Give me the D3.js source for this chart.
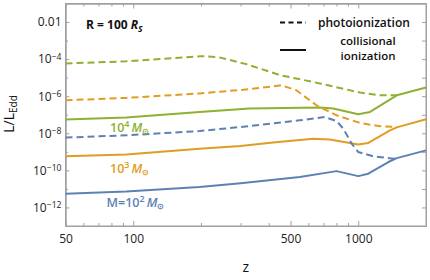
<!DOCTYPE html>
<html>
<head>
<meta charset="utf-8">
<script src="https://cdn.jsdelivr.net/npm/d3@7"></script>
<style>
  body { margin: 0; background: #fff; }
  svg { display: block; font-family: 'Open Sans', sans-serif; }
</style>
</head>
<body>
<svg id="chart" width="430" height="280"></svg>
<script>
// values: z and log10(L/LEdd)
const masses = ['1e2', '1e3', '1e4'];
const colors = ['#5E81B5', '#E19C24', '#8FB032'];

const zPhoto2 = [50, 93, 197, 300, 550, 710, 801, 858, 935, 1000, 1166, 1432, 1483];
const logPhoto2 = [-8.23, -8.11, -7.88, -7.66, -7.30, -7.12, -7.34, -7.75, -8.56, -9.01, -9.24, -9.37, -9.32];
const zColl2 = [50, 93, 197, 300, 550, 801, 1000, 1108, 1361, 1483, 2000];
const logColl2 = [-11.26, -11.14, -10.90, -10.69, -10.36, -10.04, -10.31, -10.18, -9.55, -9.34, -8.92];

const zPhoto3 = [50, 93, 197, 329, 455, 531, 652, 800, 1016, 1250, 1483];
const logPhoto3 = [-6.22, -6.09, -5.85, -5.62, -5.41, -5.68, -6.49, -7.03, -7.44, -7.62, -7.66];
const zColl3 = [50, 93, 197, 300, 418, 630, 748, 1000, 1108, 1384, 1483, 2000];
const logColl3 = [-9.24, -9.15, -8.83, -8.69, -8.50, -8.29, -8.34, -8.61, -8.52, -7.84, -7.68, -7.24];

const zPhoto4 = [50, 93, 150, 200, 240, 318, 448, 675, 1016, 1250, 1483];
const logPhoto4 = [-4.23, -4.12, -3.95, -3.84, -3.90, -4.27, -4.86, -5.31, -5.80, -5.95, -5.95];
const zColl4 = [50, 93, 197, 329, 675, 774, 1000, 1128, 1483, 2000];
const logColl4 = [-7.26, -7.15, -6.85, -6.66, -6.61, -6.66, -6.97, -6.85, -5.95, -5.53];

const xTicks = [50, 100, 500, 1000];
const xMinor = [60, 70, 80, 90, 200, 300, 400, 600, 700, 800, 900, 2000];
const yMajor = [-2, -4, -6, -8, -10, -12];   // exponents
const yMinor = [-3, -5, -7, -9, -11];

const svg = d3.select('#chart');
const margin = {left: 65.5, right: 4, top: 3.5, bottom: 54};
const w = 430, h = 280;

const x = d3.scaleLog().domain([50, 2000]).range([margin.left, w - margin.right]);
const y = d3.scaleLog().domain([1e-13, 0.1]).range([h - margin.bottom, margin.top]);

const frameCol = '#a0a0a0';

function sup(sel, base, exp) {
  sel.text(null);
  sel.append('tspan').text(base);
  sel.append('tspan').attr('dy', '-0.45em').style('font-size', '0.72em').text(exp);
}

function styleAxis(g) {
  g.select('.domain').attr('stroke', frameCol);
  g.selectAll('.tick line').attr('stroke', frameCol);
  g.selectAll('.tick text').attr('fill', '#222').style('font-size', '12px').style('font-family', "'Open Sans', sans-serif");
}

// frame
svg.append('rect')
  .attr('x', margin.left).attr('y', margin.top)
  .attr('width', w - margin.right - margin.left).attr('height', h - margin.bottom - margin.top)
  .attr('fill', 'none').attr('stroke', frameCol).attr('stroke-width', 1);

// bottom axis
svg.append('g').attr('transform', `translate(0,${h - margin.bottom})`)
  .call(d3.axisBottom(x).tickValues(xTicks).tickFormat(d3.format('d')).tickSizeInner(-5).tickSizeOuter(0).tickPadding(8))
  .call(styleAxis);
svg.append('g').attr('transform', `translate(0,${h - margin.bottom})`)
  .call(d3.axisBottom(x).tickValues(xMinor).tickFormat('').tickSizeInner(-3).tickSizeOuter(0))
  .call(styleAxis);
// top axis
svg.append('g').attr('transform', `translate(0,${margin.top})`)
  .call(d3.axisTop(x).tickValues(xTicks).tickFormat('').tickSizeInner(-5).tickSizeOuter(0))
  .call(styleAxis);
svg.append('g').attr('transform', `translate(0,${margin.top})`)
  .call(d3.axisTop(x).tickValues(xMinor).tickFormat('').tickSizeInner(-3).tickSizeOuter(0))
  .call(styleAxis);

// left axis
const yl = svg.append('g').attr('transform', `translate(${margin.left},0)`)
  .call(d3.axisLeft(y).tickValues(yMajor.map(e => Math.pow(10, e))).tickFormat('').tickSizeInner(-4).tickSizeOuter(0).tickPadding(4))
  .call(styleAxis);
yl.selectAll('.tick text').each(function(d) {
  const e = Math.round(Math.log10(d));
  const t = d3.select(this);
  if (e === -2) t.text('0.01');
  else sup(t, '10', '\u2212' + (-e));
});
svg.append('g').attr('transform', `translate(${margin.left},0)`)
  .call(d3.axisLeft(y).tickValues(yMinor.map(e => Math.pow(10, e))).tickFormat('').tickSizeInner(-2.5).tickSizeOuter(0))
  .call(styleAxis);
// right axis
svg.append('g').attr('transform', `translate(${w - margin.right},0)`)
  .call(d3.axisRight(y).tickValues(yMajor.concat(yMinor).map(e => Math.pow(10, e))).tickFormat('').tickSizeInner(-4).tickSizeOuter(0))
  .call(styleAxis);

// curves
const line = d3.line().x(d => x(d[0])).y(d => y(Math.pow(10, d[1])));

const series = [
  {z: zColl2, v: logColl2, c: 0, dash: null},
  {z: zColl3, v: logColl3, c: 1, dash: null},
  {z: zColl4, v: logColl4, c: 2, dash: null},
  {z: zPhoto2, v: logPhoto2, c: 0, dash: '7,4'},
  {z: zPhoto3, v: logPhoto3, c: 1, dash: '7,4'},
  {z: zPhoto4, v: logPhoto4, c: 2, dash: '7,4'}
];

const plot = svg.append('g');
series.forEach(s => {
  plot.append('path')
    .datum(d3.zip(s.z, s.v))
    .attr('d', line)
    .attr('fill', 'none')
    .attr('stroke', colors[s.c])
    .attr('stroke-width', 2)
    .attr('stroke-linejoin', 'round')
    .attr('stroke-dasharray', s.dash);
});

// axis titles
svg.append('text').attr('x', (margin.left + w - margin.right) / 2).attr('y', 272)
  .attr('text-anchor', 'middle').style('font-size', '14px').attr('fill', '#111').text('z');
const yt = svg.append('text').attr('transform', 'translate(14,114) rotate(-90)')
  .attr('text-anchor', 'middle').style('font-size', '14px').attr('fill', '#111');
yt.append('tspan').text('L/L');
yt.append('tspan').attr('dy', '3').style('font-size', '10px').text('Edd');

// annotation
const ann = svg.append('text').attr('x', 86).attr('y', 29).style('font-size', '12px').style('font-weight', 700).attr('fill', '#111');
ann.append('tspan').text('R = 100 ');
ann.append('tspan').style('font-style', 'italic').text('R');
ann.append('tspan').attr('dy', 2.5).style('font-size', '8.5px').style('font-style', 'italic').text('S');

// legend
const leg = svg.append('g');
leg.append('line').attr('x1', 280).attr('x2', 306).attr('y1', 22.5).attr('y2', 22.5)
  .attr('stroke', '#111').attr('stroke-width', 2).attr('stroke-dasharray', '5,3.5');
leg.append('line').attr('x1', 280).attr('x2', 306).attr('y1', 50).attr('y2', 50)
  .attr('stroke', '#111').attr('stroke-width', 2);
leg.append('text').attr('x', 318).attr('y', 26.5).style('font-size', '12px').style('font-weight', 600).attr('fill', '#111').text('photoionization');
leg.append('text').attr('x', 368).attr('y', 44.5).attr('text-anchor', 'middle').style('font-size', '11.5px').style('font-weight', 600).attr('fill', '#111').text('collisional');
leg.append('text').attr('x', 368).attr('y', 60).attr('text-anchor', 'middle').style('font-size', '11.5px').style('font-weight', 600).attr('fill', '#111').text('ionization');

// curve labels
function massLabel(xp, yp, col, pre, exp) {
  const t = svg.append('text').attr('x', xp).attr('y', yp).style('font-size', '12.5px').style('font-weight', 600).attr('fill', col);
  t.append('tspan').text(pre + '10');
  t.append('tspan').attr('dy', -5).style('font-size', '9px').text(exp);
  t.append('tspan').attr('dy', 5).style('font-style', 'italic').text('\u2009M');
  t.append('tspan').attr('dy', 2).style('font-size', '8px').text('\u2299');
}
massLabel(110, 132, colors[2], '', '4');
massLabel(110, 173, colors[1], '', '3');
massLabel(106.5, 207, colors[0], 'M=', '2');
</script>
</body>
</html>
